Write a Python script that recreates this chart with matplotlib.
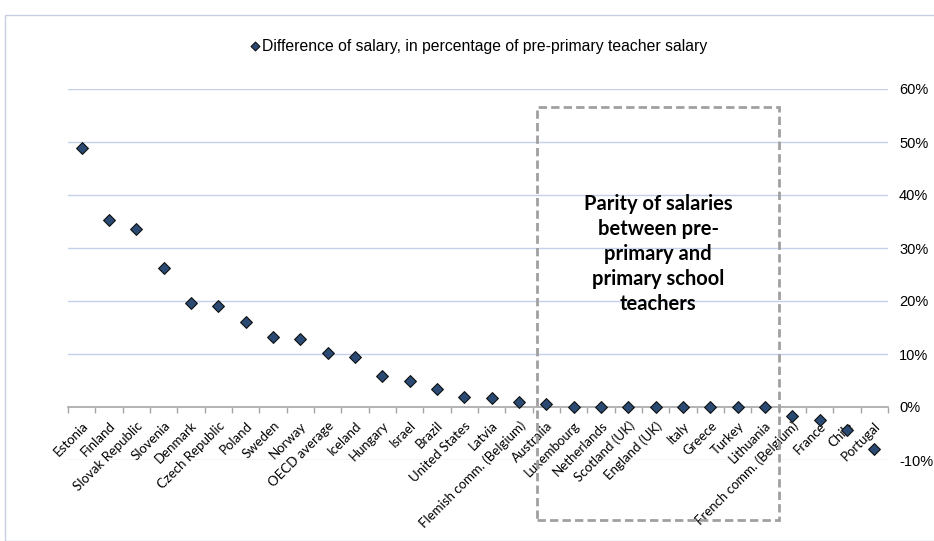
import matplotlib
matplotlib.use("Agg")
import matplotlib.pyplot as plt
from matplotlib.patches import Rectangle
from matplotlib.ticker import FuncFormatter, FixedLocator

countries = ["Estonia", "Finland", "Slovak Republic", "Slovenia", "Denmark", "Czech Republic",
             "Poland", "Sweden", "Norway", "OECD average", "Iceland", "Hungary", "Israel",
             "Brazil", "United States", "Latvia", "Flemish comm. (Belgium)", "Australia",
             "Luxembourg", "Netherlands", "Scotland (UK)", "England (UK)", "Italy", "Greece",
             "Turkey", "Lithuania", "French comm. (Belgium)", "France", "Chile", "Portugal"]
diff = [48.8, 35.2, 33.6, 26.2, 19.6, 19.0, 16.0, 13.2, 12.8, 10.2, 9.5, 5.8, 5.0,
        3.4, 1.9, 1.7, 0.9, 0.6, 0.0, 0.0, 0.0, 0.0, 0.0, 0.0, 0.0, 0.0, -1.7, -2.5, -4.3, -8.0]
yticks = [-10, 0, 10, 20, 30, 40, 50, 60]
legend_label = "Difference of salary, in percentage of pre-primary teacher salary"
box_text = "Parity of salaries\nbetween pre-\nprimary and\nprimary school\nteachers"

W, H = 934, 541
fig = plt.figure(figsize=(W / 100, H / 100), dpi=100)

# outer chart border
fig.patches.append(Rectangle((5 / W, 0), 1.2, 1 - 15 / H, transform=fig.transFigure,
                             fill=False, edgecolor="#C5CFE0", linewidth=1.0))

ax = fig.add_axes([68 / W, 1 - 460 / H, (888 - 68) / W, (460 - 89) / H])
x = list(range(len(countries)))
ax.scatter(x, diff, marker="D", s=36, facecolor="#2A4A73", edgecolor="#111111",
           linewidths=0.8, zorder=5, clip_on=False, label=legend_label)

ax.set_xlim(-0.5, len(countries) - 0.5)
ax.set_ylim(-10, 60)

for s in ["top", "left", "right"]:
    ax.spines[s].set_visible(False)
ax.spines["bottom"].set_position(("data", 0))
ax.spines["bottom"].set_color("#A6A6A6")
ax.spines["bottom"].set_linewidth(1.2)

ax.set_xticks(x)
ax.set_xticklabels(countries, rotation=45, ha="right", rotation_mode="anchor",
                   fontsize=9.5, family=["Lato", "DejaVu Sans"], color="#000000")
ax.tick_params(axis="x", which="major", length=0, pad=9)
ax.xaxis.set_minor_locator(FixedLocator([i - 0.5 for i in range(len(countries) + 1)]))
ax.tick_params(axis="x", which="minor", length=4, color="#A6A6A6", width=1)

for v in yticks:
    if v != 0:
        ax.axhline(v, color="#C3D1EC", linewidth=1.0, zorder=1)

ax.yaxis.tick_right()
ax.set_yticks(yticks)
ax.yaxis.set_major_formatter(FuncFormatter(lambda v, p: f"{int(v)}%"))
ax.tick_params(axis="y", length=0, pad=8, labelsize=10.5)
for lab in ax.get_yticklabels():
    lab.set_family(["Liberation Sans", "DejaVu Sans"])

# dashed parity box
ax.add_patch(Rectangle((16.67, -21.4), 25.52 - 16.67, 56.6 + 21.4, fill=False,
                       edgecolor="#A0A0A0", linestyle=(0, (3, 1.5)), linewidth=2.0,
                       clip_on=False, zorder=4))
ax.text((16.67 + 25.52) / 2, 28.9, box_text, ha="center", va="center", fontsize=14.5,
        fontweight="bold", family=["Lato", "DejaVu Sans"], linespacing=1.32, zorder=6)

leg = fig.legend(loc="center", bbox_to_anchor=(478 / W, 1 - 46 / H), frameon=False,
                 prop={"family": ["Liberation Sans", "DejaVu Sans"], "size": 11.3},
                 handletextpad=0.0, markerscale=0.75, handlelength=0.8)

fig.savefig("out.png", dpi=100)
